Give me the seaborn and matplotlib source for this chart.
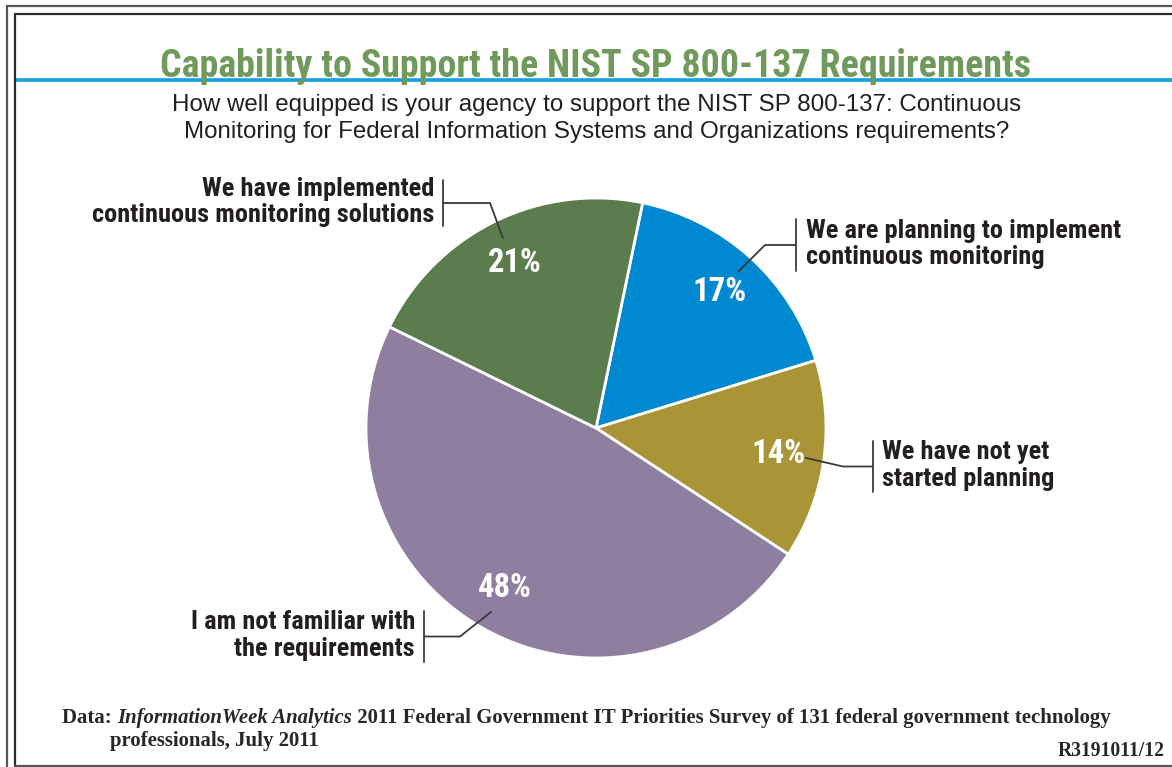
import matplotlib
matplotlib.use("Agg")
import matplotlib.pyplot as plt
import seaborn as sns
import numpy as np

# Survey answers, drawn clockwise from just right of twelve o'clock
categories = [
    "We are planning to implement\ncontinuous monitoring",
    "We have not yet\nstarted planning",
    "I am not familiar with\nthe requirements",
    "We have implemented\ncontinuous monitoring solutions",
]
shares = [17, 14, 48, 21]
colors = ["#0089d1", "#a99535", "#8e7ea0", "#5b7c4c"]

title = "Capability to Support the NIST SP 800-137 Requirements"
subtitle = [
    "How well equipped is your agency to support the NIST SP 800-137: Continuous",
    "Monitoring for Federal Information Systems and Organizations requirements?",
]
source_lead = "Data: "
source_pub = "InformationWeek Analytics"
source_rest = " 2011 Federal Government IT Priorities Survey of 131 federal government technology"
source_line2 = "professionals, July 2011"
report_id = "R3191011/12"

sns.set_theme(style="white")
NARROW = ["Roboto Condensed", "Roboto", "DejaVu Sans"]
SANS = ["Liberation Sans", "DejaVu Sans"]
SERIF = ["Liberation Serif", "DejaVu Serif"]
plt.rcParams["font.family"] = NARROW

W, H = 1172, 767
fig = plt.figure(figsize=(W / 100, H / 100), dpi=100)
fig.patch.set_facecolor("white")
ax = fig.add_axes([0, 0, 1, 1])


def Y(y):
    """Convert a top-down pixel row into the axis' bottom-up units."""
    return H - y


cx, cy, R = 596, 428, 230
wedges, _, pct_texts = ax.pie(
    shares,
    colors=colors,
    startangle=78.3,
    counterclock=False,
    center=(cx, Y(cy)),
    radius=R,
    autopct=lambda p: f"{round(p)}%",
    pctdistance=0.8,
    wedgeprops=dict(edgecolor="white", linewidth=2),
    textprops=dict(color="white", fontsize=20, fontweight="bold", family=NARROW),
)
ax.set_xlim(0, W)
ax.set_ylim(0, H)
ax.set_aspect("auto")
ax.axis("off")

renderer = fig.canvas.get_renderer()


def fit(txt, target):
    w = txt.get_window_extent(renderer).width
    txt.set_fontsize(txt.get_fontsize() * target / w)


for p in pct_texts:
    fit(p, 54)

# Frame lines and rule
dark = "#2b2b2b"
ax.plot([7, W], [Y(6), Y(6)], color="#555555", lw=1.6, clip_on=False)
ax.plot([7, 7], [Y(6), 0], color="#555555", lw=1.6, clip_on=False)
ax.plot([15, W], [Y(14), Y(14)], color=dark, lw=1.6, clip_on=False)
ax.plot([15, 15], [Y(14), Y(766)], color=dark, lw=1.6, clip_on=False)
ax.plot([15, W], [Y(766), Y(766)], color="#555555", lw=1.6, clip_on=False)
ax.plot([16, W], [Y(80), Y(80)], color="#12a2e2", lw=2.6, clip_on=False, zorder=1)

# Title and question
t = ax.text(596, Y(77), title, ha="center", va="baseline", fontsize=29,
            fontweight="bold", color="#6f9a5c", family=NARROW, zorder=5)
fit(t, 870)
s1 = ax.text(597, Y(105), subtitle[0], ha="center", va="center",
             fontsize=17, color="#231f20", family=SANS)
fit(s1, 850)
s2 = ax.text(597, Y(132), subtitle[1], ha="center", va="center",
             fontsize=s1.get_fontsize(), color="#231f20", family=SANS)

# Leader lines: text anchor, vertical bar, elbow, widest line width
callouts = [
    (806, "left", 796, 219, 271, 765, 286),
    (882, "left", 873, 441, 492, 843, 158),
    (415, "right", 424, 611, 662, 460, 205),
    (434, "right", 443, 180, 226, 490, 307),
]
label_sizes = []
label_texts = []
for wedge, label, (tx, ha, bx, top, bot, ex, tw) in zip(wedges, categories, callouts):
    mid = np.deg2rad((wedge.theta1 + wedge.theta2) / 2)
    px = cx + 0.92 * R * np.cos(mid)
    py = Y(cy) + 0.92 * R * np.sin(mid)
    ym = (top + bot) / 2
    ax.plot([bx, bx], [Y(top), Y(bot)], color="#3a3a3a", lw=1.3)
    ax.plot([bx, ex, px], [Y(ym), Y(ym), py], color="#3a3a3a", lw=1.3)
    lt = ax.text(tx, Y(ym) + 1, label, ha=ha, va="center", fontsize=19,
                 fontweight="bold", color="#231f20", family=NARROW,
                 linespacing=1.12, multialignment=ha)
    fit(lt, tw)
    label_sizes.append(lt.get_fontsize())
    label_texts.append(lt)
label_fs = float(np.mean(label_sizes)) * 1.1
for lt in label_texts:
    lt.set_fontsize(label_fs)

# Source note with italic publication name
fs = 12.5
parts = []
x0 = 62
for txt, style in [(source_lead, "normal"), (source_pub, "italic"), (source_rest, "normal")]:
    p = ax.text(x0, Y(718), txt, ha="left", va="center", fontsize=fs,
                fontweight="bold", fontstyle=style, color="#2a2627", family=SERIF)
    parts.append(p)
    x0 += p.get_window_extent(renderer).width
scale = (1110 - 62) / (x0 - 62)
x0 = 62
for p in parts:
    p.set_fontsize(fs * scale)
    p.set_x(x0)
    x0 += p.get_window_extent(renderer).width
ax.text(110, Y(741), source_line2, ha="left", va="center", fontsize=fs * scale,
        fontweight="bold", color="#2a2627", family=SERIF)
ax.text(1165, Y(751), report_id, ha="right", va="center", fontsize=fs * scale * 0.95,
        fontweight="bold", color="#2a2627", family=SERIF)

fig.savefig("out.png", dpi=100, facecolor="white")
